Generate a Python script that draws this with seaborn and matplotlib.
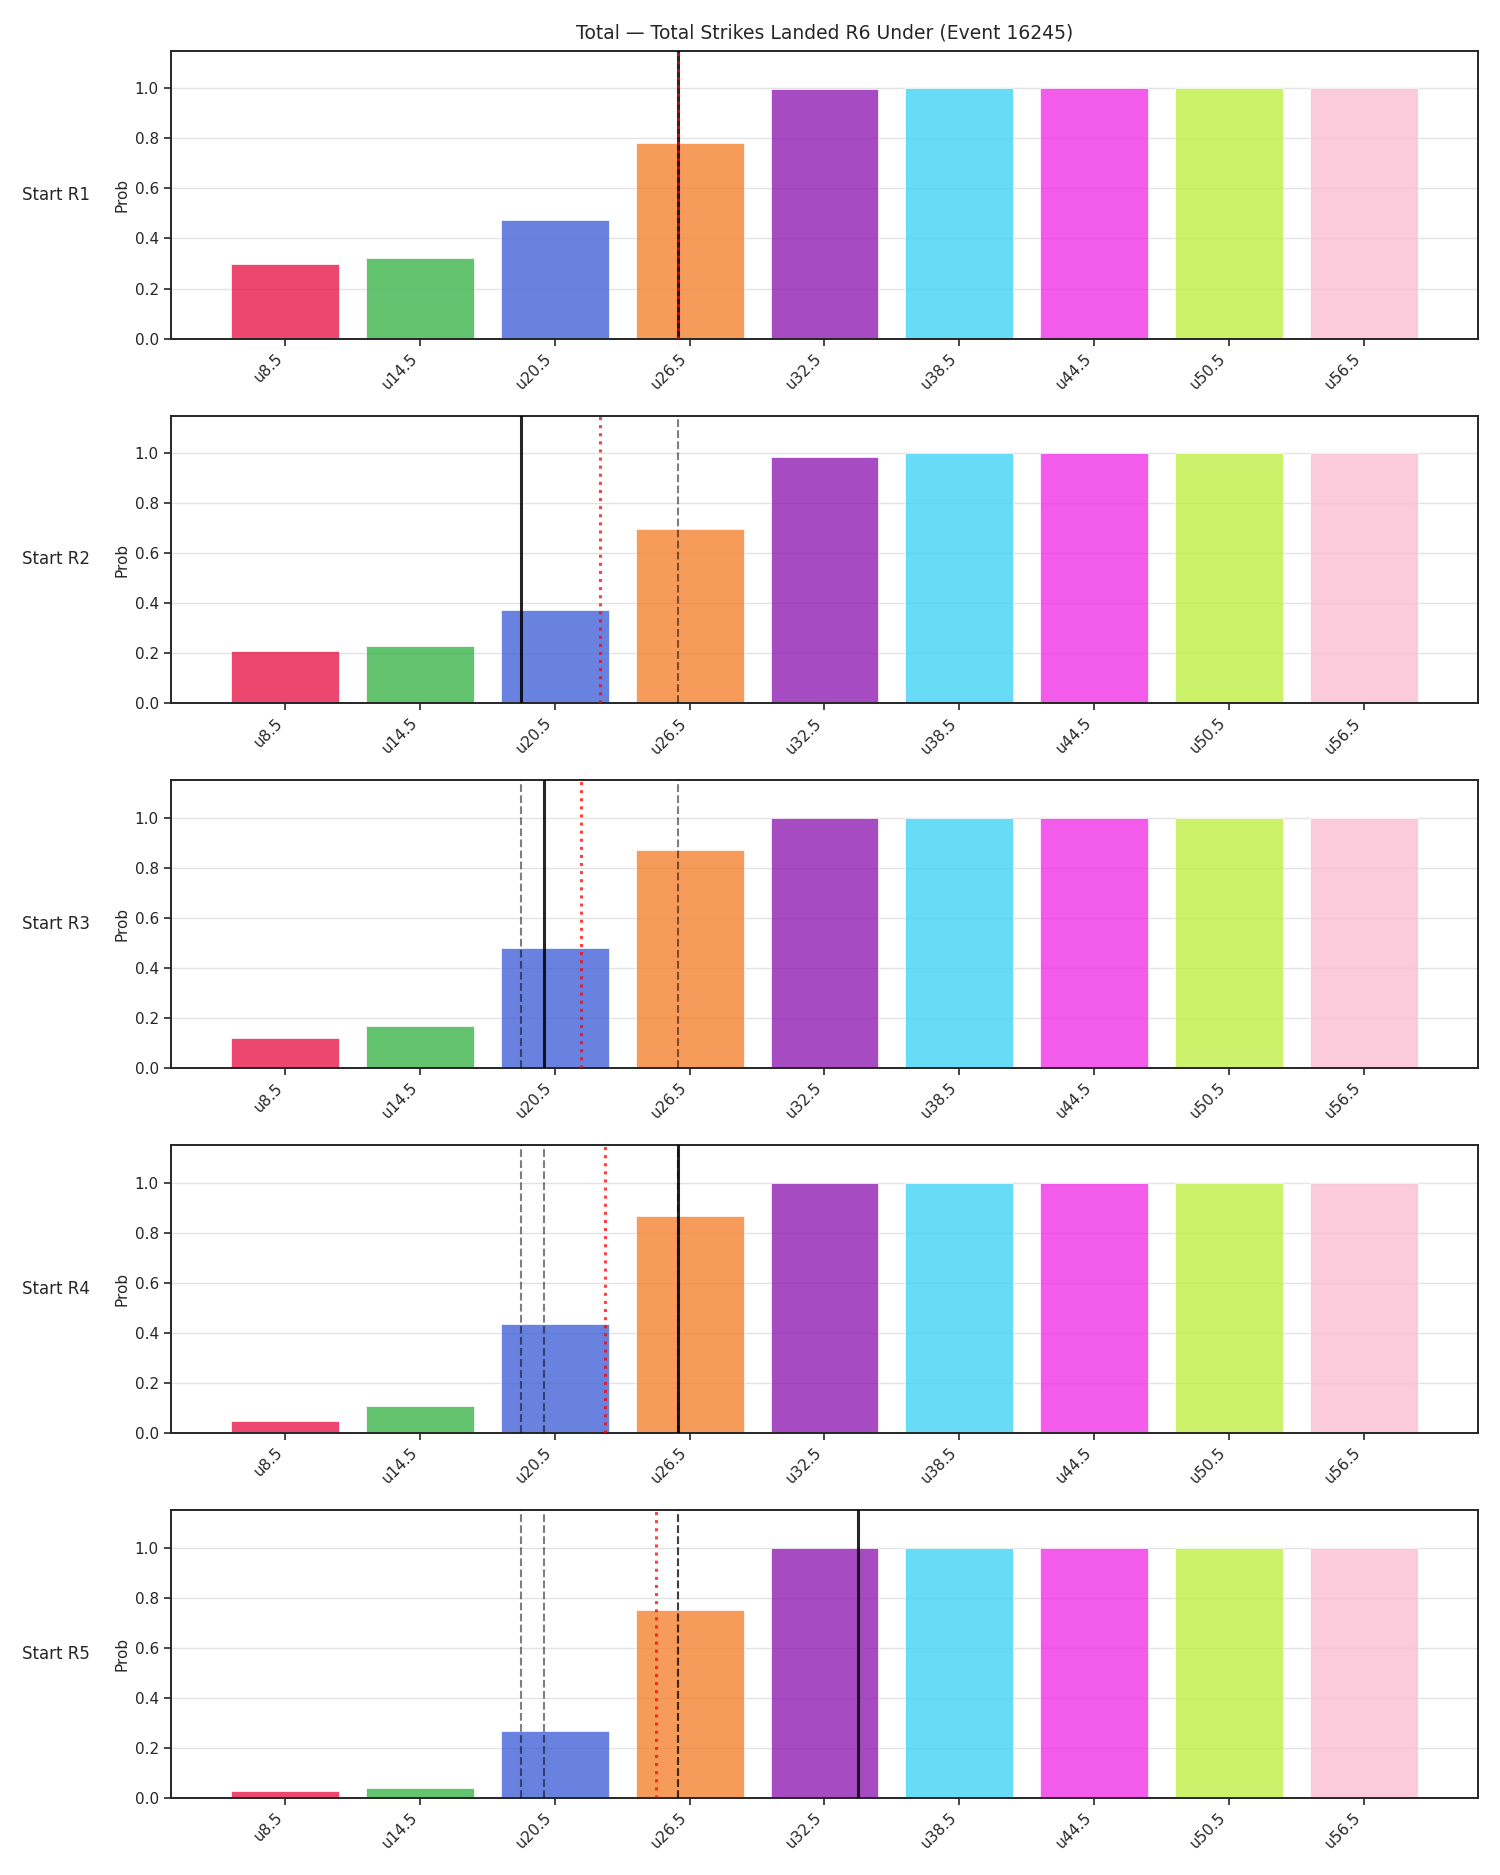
import matplotlib
matplotlib.use("Agg")
import matplotlib.pyplot as plt
import numpy as np
import pandas as pd
import seaborn as sns

# thresholds (under lines) shown on the x axis
labels = ["u8.5", "u14.5", "u20.5", "u26.5", "u32.5", "u38.5", "u44.5", "u50.5", "u56.5"]
thresholds = [8.5, 14.5, 20.5, 26.5, 32.5, 38.5, 44.5, 50.5, 56.5]
colors = ["#e6194b", "#3cb44b", "#4363d8", "#f58231", "#911eb4",
          "#42d4f4", "#f032e6", "#bfef45", "#fabed4"]

rounds = ["Start R1", "Start R2", "Start R3", "Start R4", "Start R5"]

# probability per threshold, one list per round
prob_r1 = [0.296, 0.321, 0.472, 0.781, 0.998, 1.0, 1.0, 1.0, 1.0]
prob_r2 = [0.211, 0.231, 0.372, 0.697, 0.985, 1.0, 1.0, 1.0, 1.0]
prob_r3 = [0.123, 0.168, 0.480, 0.873, 1.0, 1.0, 1.0, 1.0, 1.0]
prob_r4 = [0.049, 0.107, 0.436, 0.869, 1.0, 1.0, 1.0, 1.0, 1.0]
prob_r5 = [0.027, 0.042, 0.267, 0.752, 1.0, 1.0, 1.0, 1.0, 1.0]
probs = [prob_r1, prob_r2, prob_r3, prob_r4, prob_r5]

# strikes landed in each round (solid line) and running average (red dotted)
actual = [26, 19, 20, 26, 34]
running_avg = [26.0, 22.5, 21.67, 22.75, 25.0]

sns.set_style("ticks")
plt.rcParams["font.family"] = ["DejaVu Sans"]

fig, axes = plt.subplots(5, 1, figsize=(15, 18.75), dpi=100)
fig.subplots_adjust(left=0.1138, right=0.9855, top=0.973, bottom=0.041, hspace=0.267)

idx = np.arange(len(labels))

for i, ax in enumerate(axes):
    df = pd.DataFrame({"line": labels, "prob": probs[i]})
    sns.barplot(data=df, x="line", y="prob", hue="line", palette=colors,
                saturation=1, alpha=0.8, edgecolor="white", linewidth=0.6,
                legend=False, ax=ax, zorder=2)

    # previous rounds
    for v in actual[:i]:
        ax.axvline(np.interp(v, thresholds, idx), color="k", ls="--", lw=1.5,
                   alpha=0.5, zorder=3)
    ax.axvline(np.interp(actual[i], thresholds, idx), color="k", lw=2.2,
               alpha=0.85, zorder=4)
    ax.axvline(np.interp(running_avg[i], thresholds, idx), color="red", ls=":",
               lw=2.2, alpha=0.75, zorder=5)

    ax.set_xlim(-0.85, 8.85)
    ax.set_ylim(0, 1.15)
    ax.set_yticks([0, 0.2, 0.4, 0.6, 0.8, 1.0])
    ax.grid(axis="y", color="#e3e3e3", lw=1, zorder=0)
    ax.set_axisbelow(True)
    ax.set_xlabel("")
    ax.set_ylabel("Prob", fontsize=11)
    ax.tick_params(axis="both", labelsize=11, length=5, width=1.2, color="#262626")
    for s in ax.spines.values():
        s.set_linewidth(1.4)
        s.set_color("#262626")
    plt.setp(ax.get_xticklabels(), rotation=45, ha="right", rotation_mode="default")
    ax.text(-0.062, 0.5, rounds[i], transform=ax.transAxes, ha="right",
            va="center", fontsize=12)

axes[0].set_title("Total \u2014 Total Strikes Landed R6 Under (Event 16245)", fontsize=13.5, pad=9)

fig.savefig("out.png", dpi=100)
